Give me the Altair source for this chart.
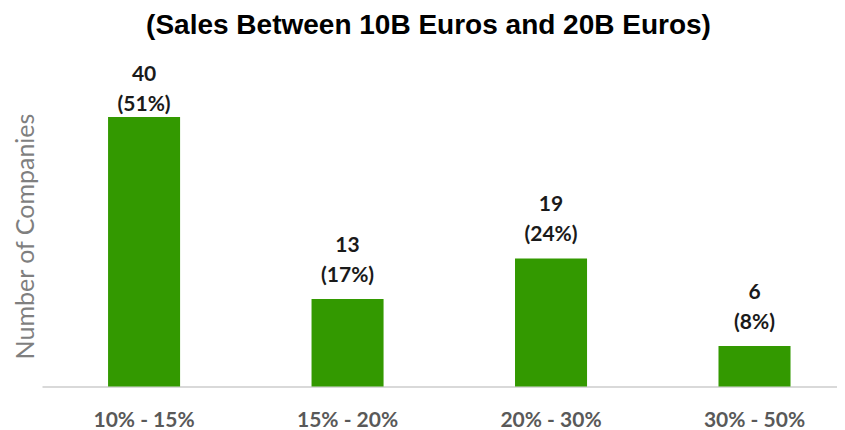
import altair as alt
import pandas as pd

categories = ["10% - 15%", "15% - 20%", "20% - 30%", "30% - 50%"]
counts = [40, 13, 19, 6]
percents = [51, 17, 24, 8]

df = pd.DataFrame({"range": categories, "count": counts, "pct": percents})

Y_MAX = 44.6
LABEL_CEIL = 38.4  # labels are kept inside the plot area, like the original

x_enc = alt.X(
    "range:N",
    sort=categories,
    scale=alt.Scale(paddingInner=0.646, paddingOuter=0.2765, align=0.587, round=False),
    axis=alt.Axis(
        title=None, labelAngle=0, ticks=False, tickSize=0, grid=False,
        domainColor="#d9d9d9", domainWidth=2,
        labelFont="Lato", labelFontWeight="bold", labelFontSize=21,
        labelColor="#595959", labelBaseline="alphabetic", labelPadding=40,
    ),
)

y_enc = alt.Y(
    "count:Q",
    scale=alt.Scale(domain=[0, Y_MAX], nice=False),
    axis=alt.Axis(
        title="Number of Companies", labels=False, ticks=False, domain=False, grid=False,
        titleFont="Lato", titleFontSize=25, titleFontWeight="normal",
        titleColor="#7f7f7f", titleX=-9, titleY=150, titleBaseline="alphabetic",
        titleAngle=-90,
    ),
)

base = alt.Chart(df)

bars = base.mark_bar(color="#339900").encode(x=x_enc, y=y_enc)

label_base = base.transform_calculate(
    label_y=f"min(datum.count, {LABEL_CEIL})",
    pct_text="'(' + datum.pct + '%)'",
)

count_text = label_base.mark_text(
    font="Lato", fontWeight="bold", fontSize=21, color="#1a1a1a",
    baseline="alphabetic", dy=-47,
).encode(
    x=alt.X("range:N", sort=categories),
    y=alt.Y("label_y:Q"),
    text=alt.Text("count:Q"),
)

pct_text = label_base.mark_text(
    font="Lato", fontWeight="bold", fontSize=21, color="#1a1a1a",
    baseline="alphabetic", dy=-17,
).encode(
    x=alt.X("range:N", sort=categories),
    y=alt.Y("label_y:Q"),
    text=alt.Text("pct_text:N"),
)

chart = (
    alt.layer(bars, count_text, pct_text)
    .properties(
        width=795,
        height=300.5,
        autosize=alt.AutoSizeParams(type="none"),
        padding={"left": 34, "top": 78, "right": 0, "bottom": 50},
        title=alt.TitleParams(
            text="(Sales Between 10B Euros and 20B Euros)",
            font="Liberation Sans", fontSize=28, fontWeight="bold", color="#000000",
            anchor="middle", dx=-11, baseline="alphabetic", offset=2,
        ),
        background="#ffffff",
    )
    .configure_view(stroke=None)
)

chart.save("out.html", embed_options={"renderer": "svg", "actions": False})
